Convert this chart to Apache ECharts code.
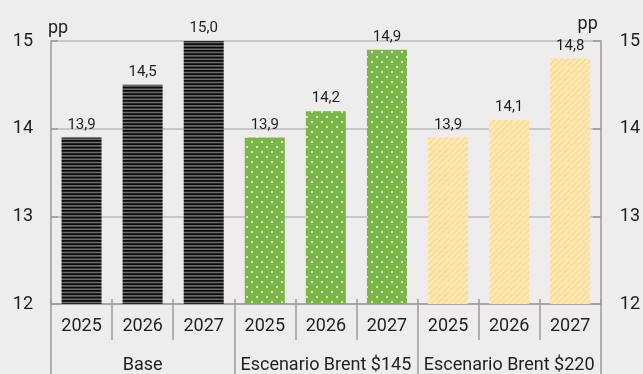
<!DOCTYPE html>
<html>
<head>
<meta charset="utf-8">
<script src="https://cdn.jsdelivr.net/npm/echarts@6/dist/echarts.min.js"></script>
<style>
  html, body { margin: 0; padding: 0; background: #eeeced; }
  #chart { width: 643px; height: 374px; }
</style>
</head>
<body>
<div id="chart"></div>
<script>
// Years within each scenario and the scenario groups
const years = ['2025', '2026', '2027', '2025', '2026', '2027', '2025', '2026', '2027'];
const groups = ['Base', 'Escenario Brent $145', 'Escenario Brent $220'];

// Values per scenario (pp)
const baseValues = [13.9, 14.5, 15.0];
const brent145Values = [13.9, 14.2, 14.9];
const brent220Values = [13.9, 14.1, 14.8];

// Value axis ticks
const yTicks = [12, 13, 14, 15];

// Fill patterns for each scenario
function stripePattern() {
  const c = document.createElement('canvas');
  c.width = 4; c.height = 10;
  const g = c.getContext('2d');
  g.fillStyle = '#0a0a0a';
  g.fillRect(0, 0, 4, 10);
  g.fillStyle = '#6a6a6a';
  g.fillRect(0, 1.7, 4, 1.6);
  g.fillRect(0, 5.0, 4, 1.7);
  g.fillRect(0, 8.4, 4, 1.6);
  return c;
}
function dotPattern() {
  const c = document.createElement('canvas');
  c.width = 10; c.height = 10;
  const g = c.getContext('2d');
  g.fillStyle = '#7ab648';
  g.fillRect(0, 0, 10, 10);
  g.fillStyle = 'rgba(255,255,255,0.9)';
  [[2, 2], [7, 7]].forEach(([x, y]) => {
    g.fillRect(x - 0.5, y - 1, 1, 2);
    g.fillRect(x - 1, y - 0.5, 2, 1);
  });
  return c;
}
function hatchPattern() {
  const c = document.createElement('canvas');
  c.width = 6; c.height = 6;
  const g = c.getContext('2d');
  g.fillStyle = '#fddc90';
  g.fillRect(0, 0, 6, 6);
  g.strokeStyle = '#fdebc2';
  g.lineWidth = 2;
  for (let k = -6; k <= 12; k += 6) {
    g.beginPath();
    g.moveTo(k, 6);
    g.lineTo(k + 6, 0);
    g.stroke();
  }
  return c;
}

const fills = [stripePattern(), dotPattern(), hatchPattern()];
const scenarioValues = [baseValues, brent145Values, brent220Values];

const barData = [];
scenarioValues.forEach((vals, gi) => {
  vals.forEach(v => {
    barData.push({
      value: v,
      itemStyle: { color: { image: fills[gi], repeat: 'repeat' } }
    });
  });
});

const font = 'Roboto';
const textColor = '#1f1f1f';
const axisGray = '#9a9a9a';

const chart = echarts.init(document.getElementById('chart'), null, { renderer: 'canvas' });
chart.setOption({
  backgroundColor: '#eeeced',
  animation: false,
  grid: { left: 51, right: 40, top: 41, bottom: 68, containLabel: false },
  xAxis: [
    {
      type: 'category',
      data: years,
      position: 'bottom',
      axisLine: { show: true, lineStyle: { color: axisGray, width: 1.5 } },
      axisTick: { show: true, interval: 0, length: 36, lineStyle: { color: axisGray, width: 1.5 } },
      axisLabel: { interval: 0, margin: 13, fontSize: 18, fontFamily: font, color: textColor }
    },
    {
      type: 'category',
      data: groups,
      position: 'bottom',
      offset: 0,
      axisLine: { show: false },
      axisTick: { show: true, interval: 0, length: 70, lineStyle: { color: axisGray, width: 1.5 } },
      axisLabel: { interval: 0, margin: 52, fontSize: 18, fontFamily: font, color: textColor }
    },
    {
      type: 'category',
      data: years,
      position: 'bottom',
      axisLine: { show: false },
      axisTick: { show: true, inside: true, interval: 0, length: 5, lineStyle: { color: axisGray, width: 1.5 } },
      axisLabel: { show: false }
    }
  ],
  yAxis: [
    {
      type: 'value',
      min: yTicks[0],
      max: yTicks[yTicks.length - 1],
      interval: 1,
      position: 'left',
      name: 'pp',
      nameLocation: 'end',
      nameGap: 4,
      nameTextStyle: { align: 'left', fontSize: 18, fontFamily: font, color: textColor, padding: [0, 0, 0, -3] },
      axisLine: { show: true, lineStyle: { color: axisGray, width: 1.5 } },
      axisTick: { show: true, inside: true, length: 7, lineStyle: { color: axisGray, width: 1.5 } },
      axisLabel: { margin: 18, fontSize: 18, fontFamily: font, color: textColor },
      splitLine: { show: true, lineStyle: { color: '#bdbdbd', width: 1.5 } }
    },
    {
      type: 'value',
      min: yTicks[0],
      max: yTicks[yTicks.length - 1],
      interval: 1,
      position: 'right',
      name: 'pp',
      nameLocation: 'end',
      nameGap: 8,
      nameTextStyle: { align: 'right', fontSize: 18, fontFamily: font, color: textColor, padding: [0, 3, 0, 0] },
      axisLine: { show: true, lineStyle: { color: axisGray, width: 1.5 } },
      axisTick: { show: true, inside: true, length: 8, lineStyle: { color: axisGray, width: 1.5 } },
      axisLabel: { margin: 19, fontSize: 18, fontFamily: font, color: textColor },
      splitLine: { show: false }
    }
  ],
  series: [
    {
      type: 'bar',
      xAxisIndex: 0,
      yAxisIndex: 0,
      barWidth: 40,
      data: barData,
      label: {
        show: true,
        position: 'top',
        distance: 5,
        fontSize: 15,
        fontFamily: font,
        color: textColor,
        formatter: p => p.value.toFixed(1).replace('.', ',')
      }
    }
  ]
});
</script>
</body>
</html>
